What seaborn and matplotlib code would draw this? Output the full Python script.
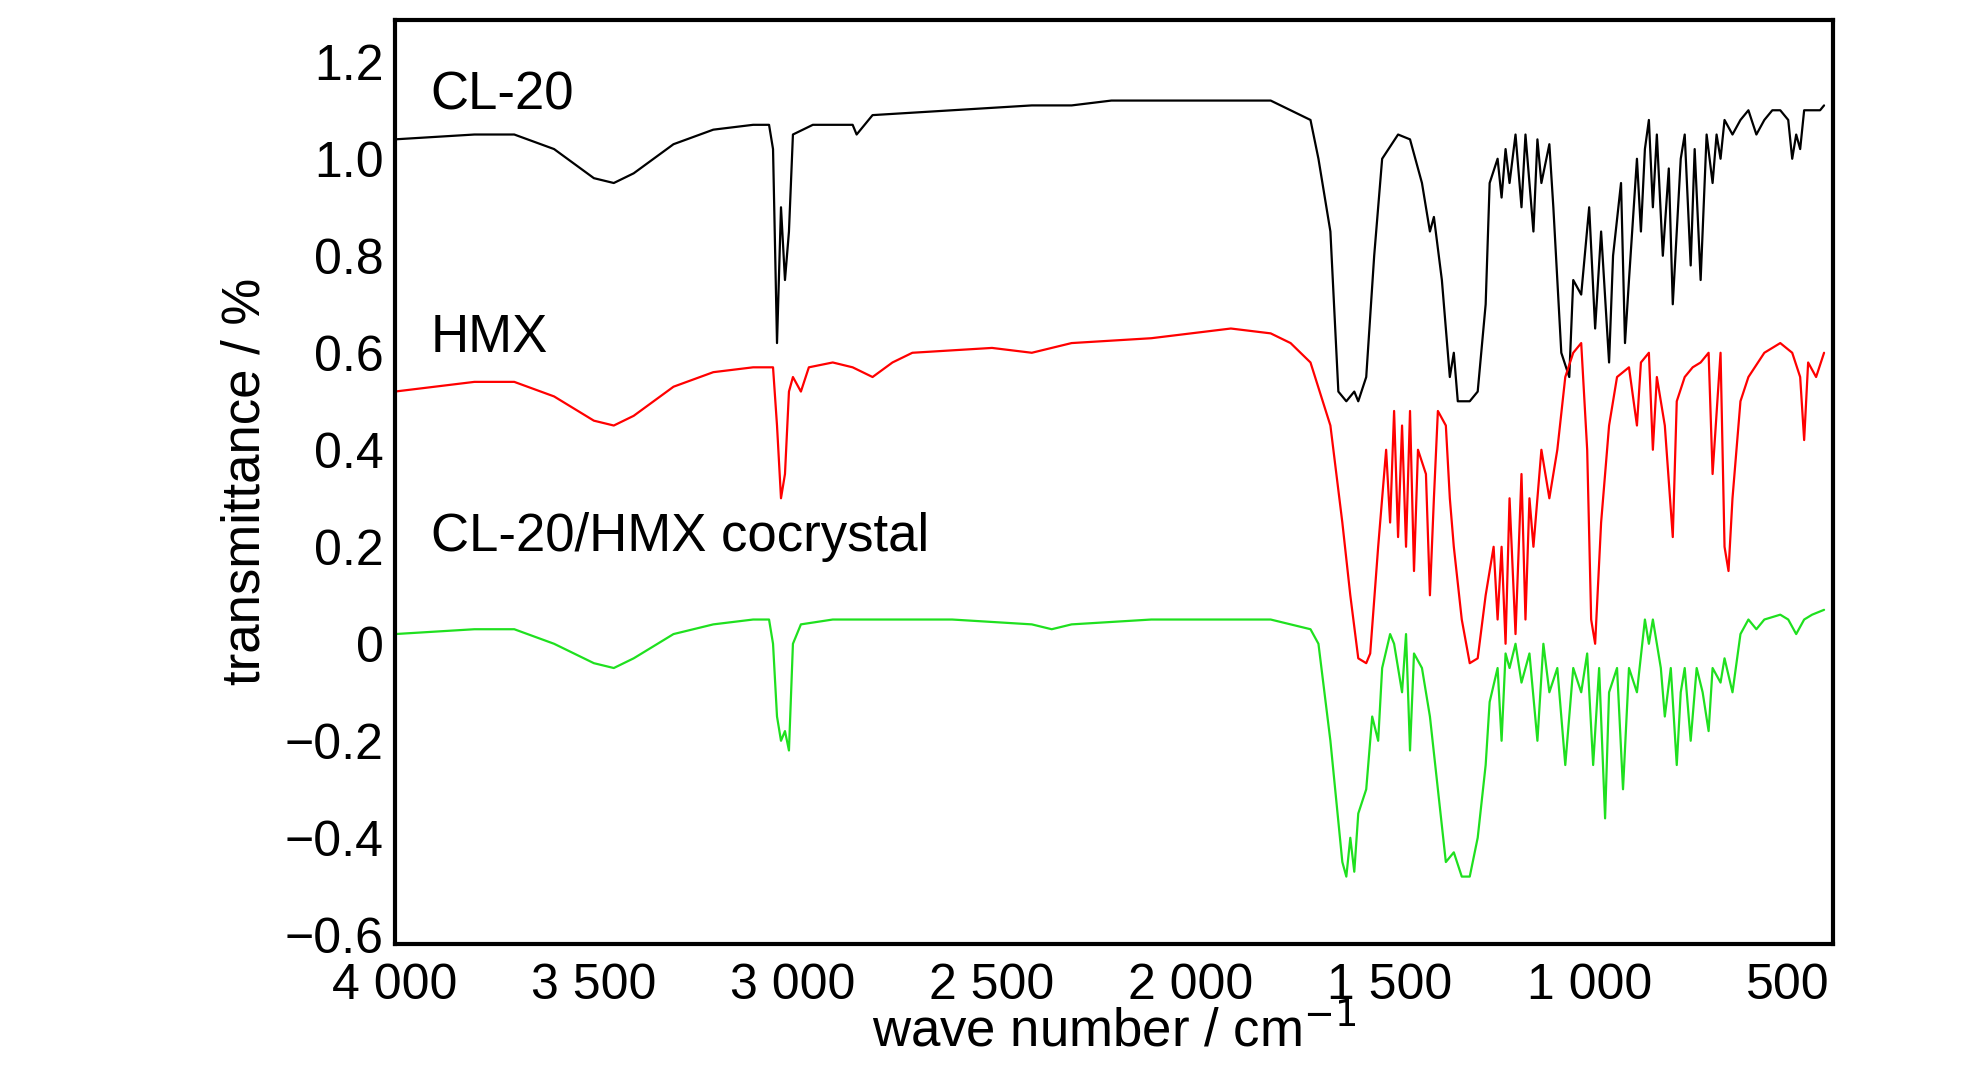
import numpy as np
import pandas as pd
import seaborn as sns
import matplotlib.pyplot as plt

# spectra as (wave number, transmittance) key points
cl20_wn = [4000,3800,3700,3600,3500,3450,3400,3300,3200,3100,3060,3050,3040,3030,3020,3010,3000,2950,2850,2840,2800,2600,2400,2300,2200,2000,1800,1700,1680,1650,1630,1610,1590,1580,1560,1540,1520,1480,1450,1420,1400,1390,1370,1350,1340,1330,1300,1280,1260,1250,1230,1220,1210,1200,1185,1170,1160,1140,1130,1120,1100,1090,1070,1050,1040,1020,1000,985,970,950,940,920,910,900,880,870,860,850,840,830,815,800,790,780,770,760,745,735,720,705,690,680,670,660,640,620,600,580,560,540,520,500,490,480,470,460,440,420,410]
cl20_t = [1.04,1.05,1.05,1.02,0.96,0.95,0.97,1.03,1.06,1.07,1.07,1.02,0.62,0.90,0.75,0.85,1.05,1.07,1.07,1.05,1.09,1.10,1.11,1.11,1.12,1.12,1.12,1.08,1.0,0.85,0.52,0.50,0.52,0.50,0.55,0.8,1.0,1.05,1.04,0.95,0.85,0.88,0.75,0.55,0.60,0.50,0.50,0.52,0.70,0.95,1.0,0.92,1.02,0.95,1.05,0.90,1.05,0.85,1.04,0.95,1.03,0.90,0.60,0.55,0.75,0.72,0.90,0.65,0.85,0.58,0.80,0.95,0.62,0.75,1.0,0.85,1.02,1.08,0.90,1.05,0.80,0.98,0.70,0.85,1.0,1.05,0.78,1.02,0.75,1.05,0.95,1.05,1.0,1.08,1.05,1.08,1.10,1.05,1.08,1.10,1.10,1.08,1.0,1.05,1.02,1.10,1.10,1.10,1.11]

hmx_wn = [4000,3800,3700,3600,3500,3450,3400,3300,3200,3100,3050,3040,3030,3020,3010,3000,2980,2960,2900,2850,2800,2750,2700,2500,2400,2300,2100,1900,1800,1750,1700,1650,1620,1600,1580,1560,1550,1530,1510,1500,1490,1480,1470,1460,1450,1440,1430,1410,1400,1390,1380,1360,1350,1340,1320,1300,1280,1260,1240,1230,1220,1210,1200,1185,1170,1160,1150,1140,1120,1100,1080,1060,1040,1020,1005,995,985,970,950,930,900,880,870,850,840,830,810,790,780,760,740,720,700,690,670,660,650,640,620,600,560,520,490,470,460,450,430,410]
hmx_t = [0.52,0.54,0.54,0.51,0.46,0.45,0.47,0.53,0.56,0.57,0.57,0.45,0.30,0.35,0.52,0.55,0.52,0.57,0.58,0.57,0.55,0.58,0.60,0.61,0.60,0.62,0.63,0.65,0.64,0.62,0.58,0.45,0.25,0.10,-0.03,-0.04,-0.02,0.2,0.40,0.25,0.48,0.22,0.45,0.20,0.48,0.15,0.40,0.35,0.10,0.30,0.48,0.45,0.30,0.20,0.05,-0.04,-0.03,0.10,0.20,0.05,0.20,0.0,0.30,0.02,0.35,0.05,0.30,0.20,0.40,0.30,0.40,0.55,0.60,0.62,0.40,0.05,0.0,0.25,0.45,0.55,0.57,0.45,0.58,0.60,0.40,0.55,0.45,0.22,0.50,0.55,0.57,0.58,0.60,0.35,0.60,0.20,0.15,0.30,0.50,0.55,0.60,0.62,0.60,0.55,0.42,0.58,0.55,0.60]

co_wn = [4000,3800,3700,3600,3500,3450,3400,3300,3200,3100,3060,3050,3040,3030,3020,3010,3000,2980,2900,2800,2600,2400,2350,2300,2100,1900,1800,1700,1680,1650,1620,1610,1600,1590,1580,1560,1545,1530,1520,1500,1490,1470,1460,1450,1440,1420,1400,1380,1360,1340,1320,1300,1280,1260,1250,1230,1220,1210,1200,1185,1170,1150,1130,1115,1100,1080,1060,1040,1020,1005,990,975,960,950,930,915,900,880,860,850,840,820,810,795,780,770,760,745,730,715,700,690,670,660,640,620,600,580,560,520,500,480,460,440,410]
co_t = [0.02,0.03,0.03,0.0,-0.04,-0.05,-0.03,0.02,0.04,0.05,0.05,0.0,-0.15,-0.20,-0.18,-0.22,0.0,0.04,0.05,0.05,0.05,0.04,0.03,0.04,0.05,0.05,0.05,0.03,0.0,-0.2,-0.45,-0.48,-0.40,-0.47,-0.35,-0.30,-0.15,-0.20,-0.05,0.02,0.0,-0.10,0.02,-0.22,-0.02,-0.05,-0.15,-0.30,-0.45,-0.43,-0.48,-0.48,-0.40,-0.25,-0.12,-0.05,-0.20,-0.02,-0.05,0.0,-0.08,-0.02,-0.20,0.0,-0.10,-0.05,-0.25,-0.05,-0.10,-0.02,-0.25,-0.05,-0.36,-0.10,-0.05,-0.30,-0.05,-0.10,0.05,0.0,0.05,-0.05,-0.15,-0.05,-0.25,-0.10,-0.05,-0.20,-0.05,-0.10,-0.18,-0.05,-0.08,-0.03,-0.10,0.02,0.05,0.03,0.05,0.06,0.05,0.02,0.05,0.06,0.07]

names = ["CL-20", "HMX", "CL-20/HMX cocrystal"]
colors = ["black", "red", "#1fe01f"]
label_y = [1.13, 0.63, 0.22]

df = pd.concat([
    pd.DataFrame({"wn": cl20_wn, "t": cl20_t, "s": names[0]}),
    pd.DataFrame({"wn": hmx_wn, "t": hmx_t, "s": names[1]}),
    pd.DataFrame({"wn": co_wn, "t": co_t, "s": names[2]}),
])

sns.set_style("white")
plt.rcParams['font.family'] = ['Liberation Sans Narrow', 'Liberation Sans', 'DejaVu Sans']
plt.rcParams['text.color'] = 'black'
plt.rcParams['axes.labelcolor'] = 'black'
plt.rcParams['xtick.color'] = 'black'
plt.rcParams['ytick.color'] = 'black'

fig = plt.figure(figsize=(19.84, 10.87), dpi=100)
ax = fig.add_axes([0.199, 0.132, 0.725, 0.85])
sns.lineplot(data=df, x="wn", y="t", hue="s", palette=dict(zip(names, colors)),
             sort=False, estimator=None, lw=1.6, legend=False, ax=ax)

for n, y in zip(names, label_y):
    ax.text(3910, y, n, fontsize=38, va="center", ha="left")

ax.set_xlim(4000, 387)
ax.set_ylim(-0.618, 1.287)
ax.set_xticks([4000, 3500, 3000, 2500, 2000, 1500, 1000, 500])
ax.set_xticklabels(["4 000", "3 500", "3 000", "2 500", "2 000", "1 500", "1 000", "500"])
ax.set_yticks(np.arange(-0.6, 1.21, 0.2))
ax.set_yticklabels(["\u22120.6", "\u22120.4", "\u22120.2", "0", "0.2", "0.4", "0.6", "0.8", "1.0", "1.2"])
ax.tick_params(labelsize=36, direction="in", length=6, width=2)
ax.tick_params(axis="x", pad=14)
ax.tick_params(axis="y", pad=8)
ax.set_xlabel("wave number / cm$^{-1}$", fontsize=38, labelpad=-2)
ax.set_ylabel("transmittance / %", fontsize=38, labelpad=10)
for sp in ax.spines.values():
    sp.set_linewidth(3)
    sp.set_color("black")

fig.savefig("out.png", dpi=100)
